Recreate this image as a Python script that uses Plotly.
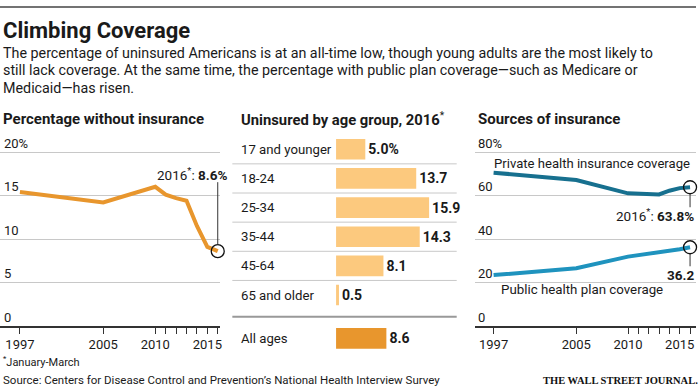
import plotly.graph_objects as go

# ---------------- data ----------------
years_unins = [1997, 2005, 2010, 2011, 2012, 2013, 2014, 2015, 2016]
pct_uninsured = [15.4, 14.2, 16.0, 15.1, 14.7, 14.4, 11.5, 9.1, 8.6]

age_groups = ["17 and younger", "18-24", "25-34", "35-44", "45-64", "65 and older"]
age_uninsured = [5.0, 13.7, 15.9, 14.3, 8.1, 0.5]
all_ages_label = ["All ages"]
all_ages_value = [8.6]

years_src = [1997, 2005, 2010, 2011, 2012, 2013, 2014, 2015, 2016]
private_cov = [70.5, 67.1, 61.0, 60.7, 60.6, 60.5, 62.2, 63.4, 63.8]
public_cov = [23.4, 26.6, 31.9, 32.6, 33.2, 33.6, 34.4, 35.3, 36.2]

year_ticks = [1997, 2005, 2010, 2011, 2012, 2013, 2014, 2015, 2016]
year_ticktext = ["1997", "2005", "2010", "", "", "", "", "2015", ""]
unins_ticks = [0, 5, 10, 15, 20]
unins_ticktext = ["0", "5", "10", "15", "20%"]
src_ticks = [0, 20, 40, 60, 80]
src_ticktext = ["0", "20", "40", "60", "80%"]

# ---------------- style ----------------
W, H = 700, 387
FONT = "Roboto"
ORANGE = "#E8962D"
LIGHT_ORANGE = "#FCC97E"
PRIVATE = "#17708F"
PUBLIC = "#1F93BE"
GRID = "#c8c8c8"
AXIS = "#333333"
TXT = "#1a1a1a"


def px_x(p):
    return p / W


def px_y(p):
    return (H - p) / H


fig = go.Figure()

fig.add_trace(go.Scatter(x=years_unins, y=pct_uninsured, mode="lines",
                         line=dict(color=ORANGE, width=4), xaxis="x", yaxis="y",
                         hoverinfo="skip", cliponaxis=False))
fig.add_trace(go.Scatter(x=[years_unins[-1]], y=[pct_uninsured[-1]], mode="markers",
                         marker=dict(symbol="circle-open", size=13,
                                     line=dict(color="#111", width=1.3), color="#111"),
                         xaxis="x", yaxis="y", cliponaxis=False, hoverinfo="skip"))

bar_text = [f"<b>{v:.1f}%</b>" if i == 0 else f"<b>{v:.1f}</b>"
            for i, v in enumerate(age_uninsured)]
fig.add_trace(go.Bar(x=age_uninsured, y=age_groups, orientation="h",
                     marker=dict(color=LIGHT_ORANGE, line=dict(width=0)),
                     text=bar_text, textposition="outside",
                     textfont=dict(family=FONT, size=14, color=TXT),
                     cliponaxis=False, xaxis="x2", yaxis="y2", hoverinfo="skip"))
fig.add_trace(go.Bar(x=all_ages_value, y=all_ages_label, orientation="h",
                     marker=dict(color=ORANGE, line=dict(width=0)),
                     text=[f"<b>{v:.1f}</b>" for v in all_ages_value],
                     textposition="outside",
                     textfont=dict(family=FONT, size=14, color=TXT),
                     cliponaxis=False, xaxis="x3", yaxis="y3", hoverinfo="skip"))

fig.add_trace(go.Scatter(x=years_src, y=private_cov, mode="lines",
                         line=dict(color=PRIVATE, width=4), xaxis="x4", yaxis="y4",
                         hoverinfo="skip", cliponaxis=False))
fig.add_trace(go.Scatter(x=years_src, y=public_cov, mode="lines",
                         line=dict(color=PUBLIC, width=4), xaxis="x4", yaxis="y4",
                         hoverinfo="skip", cliponaxis=False))
fig.add_trace(go.Scatter(x=[years_src[-1], years_src[-1]], y=[private_cov[-1], public_cov[-1]],
                         mode="markers",
                         marker=dict(symbol="circle-open", size=13,
                                     line=dict(color="#111", width=1.3), color="#111"),
                         xaxis="x4", yaxis="y4", cliponaxis=False, hoverinfo="skip"))

tickfont = dict(family=FONT, size=13, color=TXT)

# native axes as in the earliest renders
xline = dict(showline=True, linecolor=AXIS, linewidth=1.5, ticks="outside", ticklen=6,
             tickcolor=AXIS, tickwidth=1, tickvals=year_ticks, ticktext=year_ticktext,
             showgrid=False, zeroline=False, tickfont=tickfont, fixedrange=True)
yline = dict(showgrid=True, gridcolor=GRID, gridwidth=1, zeroline=False, showline=False,
             ticks="", showticklabels=False, fixedrange=True)

kL = 10.44
x0L = 1997 - 20 / kL
kR = 10.37
x0R = 1997 - 19 / kR
kB = 5.87

domL = [0, px_x(221)]
domR = [px_x(476), px_x(698)]
domMid = [px_x(233), px_x(458)]

fig.update_layout(
    width=W, height=H, margin=dict(l=0, r=0, t=0, b=0),
    paper_bgcolor="white", plot_bgcolor="rgba(0,0,0,0)",
    showlegend=False, bargap=0.29,
    font=dict(family=FONT, color=TXT),
    xaxis=dict(domain=domL, range=[x0L, x0L + 221 / kL], anchor="y", **xline),
    yaxis=dict(domain=[px_y(326), px_y(140)], range=[0, 186 / 8.7], anchor="x",
               tickvals=unins_ticks, **yline),
    xaxis2=dict(domain=[px_x(337), px_x(458)], range=[0, 121 / kB], anchor="y2",
                visible=False, fixedrange=True),
    yaxis2=dict(domain=[px_y(309.6), px_y(134.7)], anchor="x2", type="category",
                categoryorder="array", categoryarray=age_groups, autorange="reversed",
                visible=False, fixedrange=True),
    xaxis3=dict(domain=[px_x(337), px_x(458)], range=[0, 121 / kB], anchor="y3",
                visible=False, fixedrange=True),
    yaxis3=dict(domain=[px_y(352.9), px_y(323.7)], anchor="x3", type="category",
                visible=False, fixedrange=True),
    xaxis4=dict(domain=domR, range=[x0R, x0R + 222 / kR], anchor="y4", **xline),
    yaxis4=dict(domain=[px_y(326), px_y(140)], range=[0, 186 / 2.175], anchor="x4",
                tickvals=src_ticks, **yline),
)

shapes = []
# header rule
shapes.append(dict(type="line", xref="paper", yref="paper", x0=0, x1=px_x(698),
                   y0=px_y(7), y1=px_y(7), line=dict(color="#444", width=1.5)))
# row separators in the bar panel
for i in range(len(age_groups) - 1):
    shapes.append(dict(type="line", xref="paper", yref="y2", x0=domMid[0], x1=domMid[1],
                       y0=i + 0.5, y1=i + 0.5, line=dict(color=GRID, width=1)))
shapes.append(dict(type="line", xref="paper", yref="paper", x0=domMid[0], x1=domMid[1],
                   y0=px_y(316.7), y1=px_y(316.7), line=dict(color="#999", width=2)))
# connector lines
shapes.append(dict(type="line", xref="x", yref="y", ysizemode="pixel",
                   yanchor=pct_uninsured[-1], x0=years_unins[-1], x1=years_unins[-1],
                   y0=6.5, y1=69, line=dict(color="#333", width=1)))
shapes.append(dict(type="line", xref="x4", yref="y4", ysizemode="pixel",
                   yanchor=private_cov[-1], x0=years_src[-1], x1=years_src[-1],
                   y0=-6.5, y1=-20, line=dict(color="#333", width=1)))
shapes.append(dict(type="line", xref="x4", yref="y4", ysizemode="pixel",
                   yanchor=public_cov[-1], x0=years_src[-1], x1=years_src[-1],
                   y0=-6.5, y1=-19, line=dict(color="#333", width=1)))
fig.update_layout(shapes=shapes)

ann = []


def txt(x, y, s, size, bold=False, xanchor="left", color=TXT, family=FONT, **kw):
    d = dict(x=x, y=y, text=f"<b>{s}</b>" if bold else s, showarrow=False,
             xanchor=xanchor, yanchor="middle",
             font=dict(family=family, size=size, color=color))
    d.update(kw)
    if "xref" not in d:
        d["xref"] = "paper"
    if "yref" not in d:
        d["yref"] = "paper"
    ann.append(d)


for v, t in zip(unins_ticks, unins_ticktext):
    txt(px_x(2), v, t, 13, yref="y", yshift=9)
for v, t in zip(src_ticks, src_ticktext):
    txt(px_x(477), v, t, 13, yref="y4", yshift=9)

txt(px_x(1), px_y(30), "Climbing Coverage", 22, bold=True)
txt(px_x(1), px_y(52.5), "The percentage of uninsured Americans is at an all-time low, though young adults are the most likely to", 14.3)
txt(px_x(1), px_y(70), "still lack coverage. At the same time, the percentage with public plan coverage\u2014such as Medicare or", 14.3)
txt(px_x(1), px_y(88), "Medicaid\u2014has risen.", 14.3)

txt(px_x(1), px_y(119), "Percentage without insurance", 15, bold=True)
txt(px_x(240), px_y(119), "<b>Uninsured by age group, 2016</b><sup>*</sup>", 14.8)
txt(px_x(477), px_y(119), "Sources of insurance", 15, bold=True)

for g in age_groups:
    txt(px_x(240), g, g, 13.2, yref="y2")
txt(px_x(240), all_ages_label[0], all_ages_label[0], 13.2, yref="y3")

txt(years_unins[-1], pct_uninsured[-1], "2016<sup>*</sup>: <b>8.6%</b>", 13.5,
    xanchor="right", xref="x", yref="y", xshift=11, yshift=77)
txt(years_src[-1], private_cov[-1], "2016<sup>*</sup>: <b>63.8%</b>", 13.5,
    xanchor="right", xref="x4", yref="y4", xshift=6, yshift=-28)
txt(years_src[-1], public_cov[-1], "<b>36.2</b>", 13.5,
    xanchor="right", xref="x4", yref="y4", xshift=6, yshift=-28)
txt(1997, 74.8, "Private health insurance coverage", 13.1, xref="x4", yref="y4", xshift=-2)
txt(1997, 16.6, "Public health plan coverage", 13.3, xref="x4", yref="y4", xshift=5)

txt(px_x(1), px_y(361), "<sup>*</sup>January-March", 11)
txt(px_x(1), px_y(380), "Source: Centers for Disease Control and Prevention\u2019s National Health Interview Survey", 11.5)
txt(px_x(702), px_y(380), "<b>THE WALL STREET JOURNAL.</b>", 10.5, xanchor="right",
    family="Liberation Serif", color="#111")

fig.update_layout(annotations=ann)
fig.write_html(
    "out.html",
    post_script=("document.body.style.margin='0';"
                 "var s=document.createElement('style');"
                 "s.textContent='.modebar-container{display:none !important;}';"
                 "document.head.appendChild(s);"),
)
